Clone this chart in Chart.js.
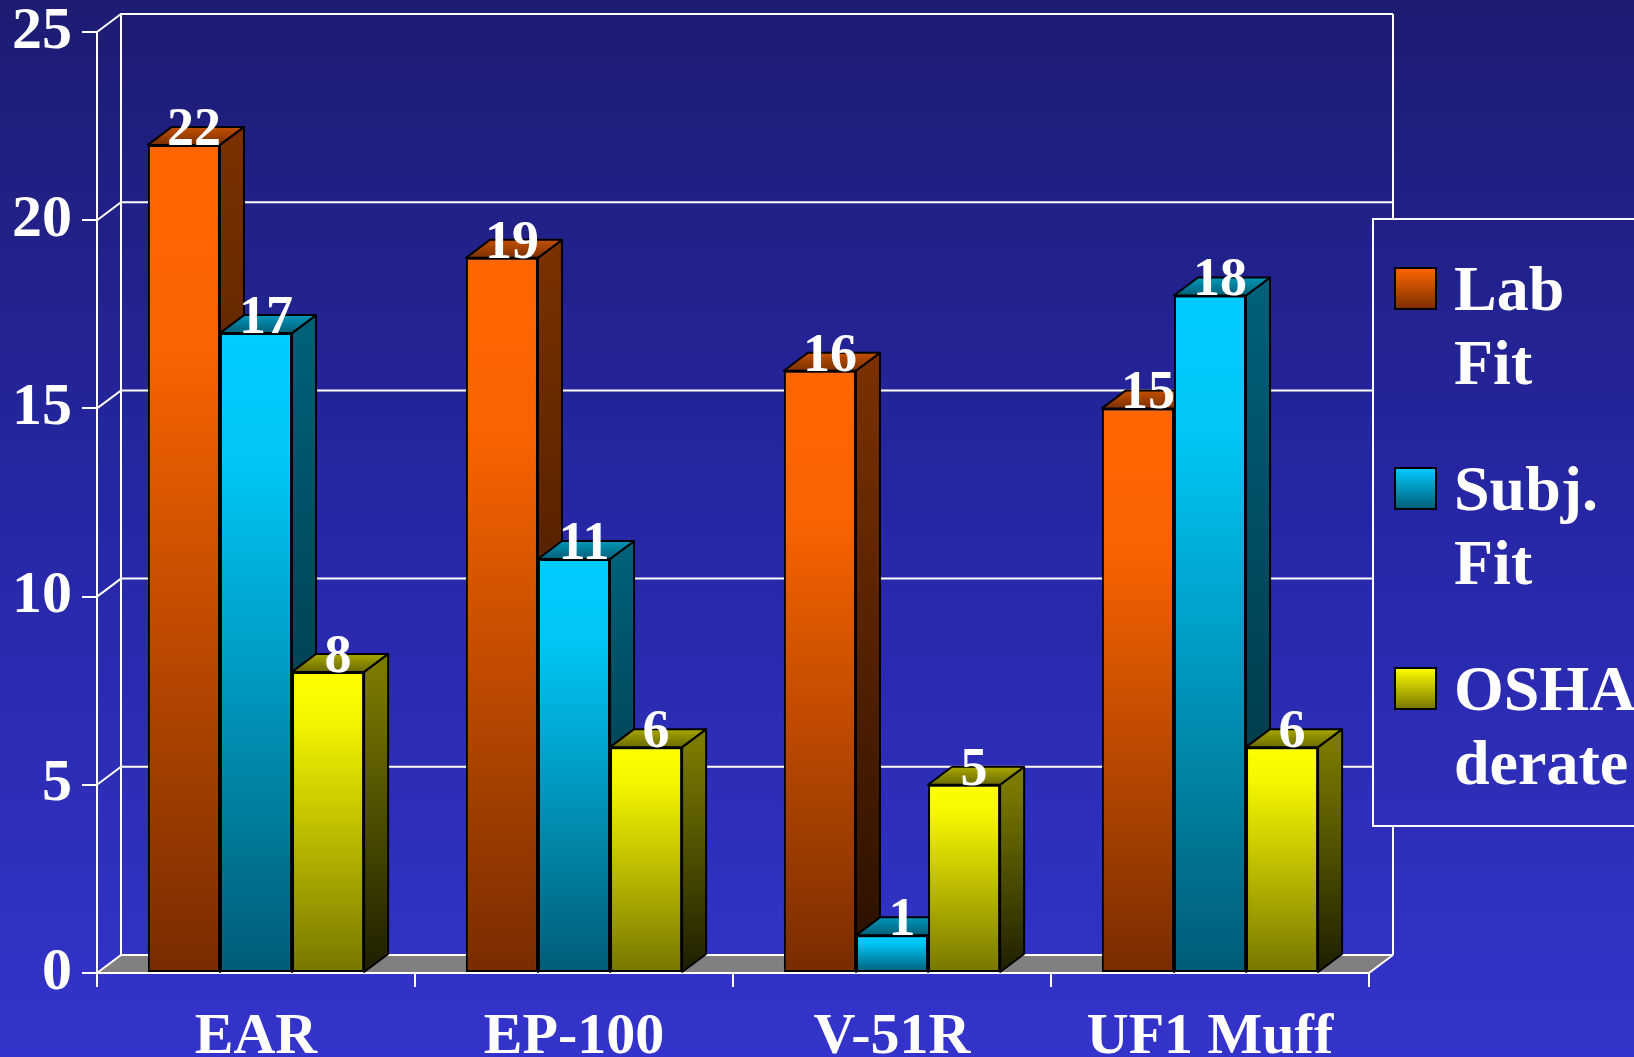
<!DOCTYPE html>
<html>
<head>
<meta charset="utf-8">
<script src="https://cdn.jsdelivr.net/npm/chart.js@4/dist/chart.umd.min.js"></script>
<style>
  html, body { margin: 0; padding: 0; overflow: hidden; background: #2a2aa0; }
  canvas { display: block; }
</style>
</head>
<body>
<canvas id="c" width="1634" height="1057"></canvas>
<script>
// ---- data ----
const categories = ['EAR', 'EP-100', 'V-51R', 'UF1 Muff'];
const labFit = [22, 19, 16, 15];
const subjFit = [17, 11, 1, 18];
const oshaDerate = [8, 6, 5, 6];
const seriesLabels = [['Lab', 'Fit'], ['Subj.', 'Fit'], ['OSHA', 'derate']];
const yMin = 0, yMax = 25, yStep = 5;

// ---- style ----
const FONT = '"Liberation Serif", "Times New Roman", serif';
const DX = 24, DY = -18; // depth offset
const palettes = [
  { front: [[0, '#FF6600'], [0.25, '#F86300'], [1, '#782C00']], side: [[0, '#7A3000'], [1, '#281000']], top: [[0, '#C45000'], [1, '#7A3000']], swatch: [[0, '#FF6600'], [1, '#7A2E00']] },
  { front: [[0, '#00CCFF'], [0.2, '#00C6F6'], [1, '#005C76']], side: [[0, '#006078'], [1, '#002C3A']], top: [[0, '#0098BA'], [1, '#005E78']], swatch: [[0, '#00CCFF'], [1, '#005E78']] },
  { front: [[0, '#FFFF00'], [0.15, '#F6F600'], [1, '#767600']], side: [[0, '#7A7A00'], [1, '#1E1E00']], top: [[0, '#A8A800'], [1, '#6A6A00']], swatch: [[0, '#FFFF00'], [1, '#767600']] }
];

function vgrad(ctx, y0, y1, stops) {
  if (!isFinite(y0) || !isFinite(y1)) return stops[0][1];
  const g = ctx.createLinearGradient(0, y0, 0, y1 === y0 ? y0 + 1 : y1);
  stops.forEach(s => g.addColorStop(s[0], s[1]));
  return g;
}
function bgGrad(ctx) {
  return vgrad(ctx, 0, 1057, [[0, '#1C1C72'], [0.5, '#2727A6'], [1, '#3434CC']]);
}

function frontColor(dsIndex) {
  return function (c) {
    const chart = c.chart;
    const ys = chart.scales && chart.scales.y;
    if (!ys || typeof c.raw !== 'number') return palettes[dsIndex].front[0][1];
    const top = ys.getPixelForValue(c.raw);
    const base = ys.getPixelForValue(0);
    return vgrad(chart.ctx, top, base, palettes[dsIndex].front);
  };
}

const wallsPlugin = {
  id: 'walls',
  beforeDraw(chart) {
    const ctx = chart.ctx;
    const ys = chart.scales.y;
    const L = chart.chartArea.left, R = chart.chartArea.right;
    const y0 = ys.getPixelForValue(yMin), yTop = ys.getPixelForValue(yMax);
    ctx.save();
    ctx.fillStyle = bgGrad(ctx);
    ctx.fillRect(0, 0, chart.width, chart.height);
    ctx.fillStyle = '#808080';
    ctx.beginPath();
    ctx.moveTo(L, y0); ctx.lineTo(R, y0); ctx.lineTo(R + DX, y0 + DY); ctx.lineTo(L + DX, y0 + DY);
    ctx.closePath(); ctx.fill();
    ctx.strokeStyle = '#FFFFFF';
    ctx.lineWidth = 2;
    for (let v = yMin; v <= yMax; v += yStep) {
      const yf = ys.getPixelForValue(v);
      ctx.beginPath();
      ctx.moveTo(L, yf); ctx.lineTo(L + DX, yf + DY); ctx.lineTo(R + DX, yf + DY);
      ctx.stroke();
    }
    ctx.beginPath();
    ctx.moveTo(L + DX, yTop + DY); ctx.lineTo(L + DX, y0 + DY);
    ctx.moveTo(R + DX, yTop + DY); ctx.lineTo(R + DX, y0 + DY);
    ctx.moveTo(R, y0); ctx.lineTo(R + DX, y0 + DY);
    ctx.stroke();
    ctx.restore();
  },
  beforeDatasetsDraw(chart) {
    const ctx = chart.ctx;
    ctx.save();
    ctx.strokeStyle = '#000000';
    ctx.lineWidth = 2;
    ctx.lineJoin = 'round';
    for (let i = 0; i < categories.length; i++) {
      chart.data.datasets.forEach((ds, d) => {
        const el = chart.getDatasetMeta(d).data[i];
        if (!el) return;
        const l = el.x - el.width / 2, r = el.x + el.width / 2, t = el.y, b = el.base;
        ctx.fillStyle = vgrad(ctx, t, b, palettes[d].side);
        ctx.beginPath();
        ctx.moveTo(r, t); ctx.lineTo(r + DX, t + DY); ctx.lineTo(r + DX, b + DY); ctx.lineTo(r, b);
        ctx.closePath(); ctx.fill(); ctx.stroke();
        ctx.fillStyle = vgrad(ctx, t + DY, t, palettes[d].top);
        ctx.beginPath();
        ctx.moveTo(l, t); ctx.lineTo(l + DX, t + DY); ctx.lineTo(r + DX, t + DY); ctx.lineTo(r, t);
        ctx.closePath(); ctx.fill(); ctx.stroke();
      });
    }
    ctx.restore();
  },
  afterDatasetsDraw(chart) {
    const ctx = chart.ctx;
    ctx.save();
    ctx.fillStyle = '#FFFFFF';
    ctx.font = 'bold 54px ' + FONT;
    ctx.textAlign = 'center';
    ctx.textBaseline = 'alphabetic';
    chart.data.datasets.forEach((ds, d) => {
      chart.getDatasetMeta(d).data.forEach((el, i) => {
        ctx.fillText(String(ds.data[i]), el.x + 10, el.y);
      });
    });
    ctx.restore();
  },
  afterDraw(chart) {
    const ctx = chart.ctx;
    ctx.save();
    const bx = 1373, by = 219, bw = 320, bh = 607;
    ctx.fillStyle = bgGrad(ctx);
    ctx.fillRect(bx, by, bw, bh);
    ctx.strokeStyle = '#FFFFFF';
    ctx.lineWidth = 2;
    ctx.strokeRect(bx, by, bw, bh);
    ctx.font = 'bold 64px ' + FONT;
    ctx.textAlign = 'left';
    ctx.textBaseline = 'alphabetic';
    chart.data.datasets.forEach((ds, d) => {
      const base = 310 + d * 200;
      const sy = base - 42;
      ctx.fillStyle = vgrad(ctx, sy, sy + 41, palettes[d].swatch);
      ctx.fillRect(1395, sy, 41, 41);
      ctx.strokeStyle = '#000000';
      ctx.lineWidth = 2;
      ctx.strokeRect(1395, sy, 41, 41);
      ctx.fillStyle = '#FFFFFF';
      ds.label.forEach((line, k) => ctx.fillText(line, 1454, base + k * 74));
    });
    ctx.restore();
  }
};

new Chart(document.getElementById('c'), {
  type: 'bar',
  data: {
    labels: categories,
    datasets: [labFit, subjFit, oshaDerate].map((vals, d) => ({
      label: seriesLabels[d],
      data: vals,
      backgroundColor: frontColor(d),
      borderColor: '#000000',
      borderWidth: 2,
      borderSkipped: false,
      categoryPercentage: 0.68,
      barPercentage: 1.0
    }))
  },
  options: {
    responsive: false,
    animation: false,
    events: [],
    layout: { padding: { top: 32, right: 265, left: 0, bottom: 0 } },
    plugins: { legend: { display: false }, tooltip: { enabled: false } },
    scales: {
      x: {
        afterFit(scale) { scale.height = 84; scale.paddingLeft = 0; scale.paddingRight = 0; },
        grid: { display: true, drawOnChartArea: false, drawTicks: true, tickLength: 14, color: '#FFFFFF', lineWidth: 2, offset: true },
        border: { display: true, color: '#FFFFFF', width: 2 },
        ticks: { color: '#FFFFFF', font: { family: FONT, size: 58, weight: 'bold', lineHeight: 1.0 }, padding: 22, maxRotation: 0, autoSkip: false }
      },
      y: {
        min: yMin, max: yMax,
        afterFit(scale) { scale.width = 97; scale.paddingTop = 0; scale.paddingBottom = 0; },
        grid: { display: true, drawOnChartArea: false, drawTicks: true, tickLength: 15, color: '#FFFFFF', lineWidth: 2 },
        border: { display: true, color: '#FFFFFF', width: 2 },
        ticks: { stepSize: yStep, color: '#FFFFFF', font: { family: FONT, size: 60, weight: 'bold', lineHeight: 1.0 }, padding: 10 }
      }
    }
  },
  plugins: [wallsPlugin]
});
</script>
</body>
</html>
